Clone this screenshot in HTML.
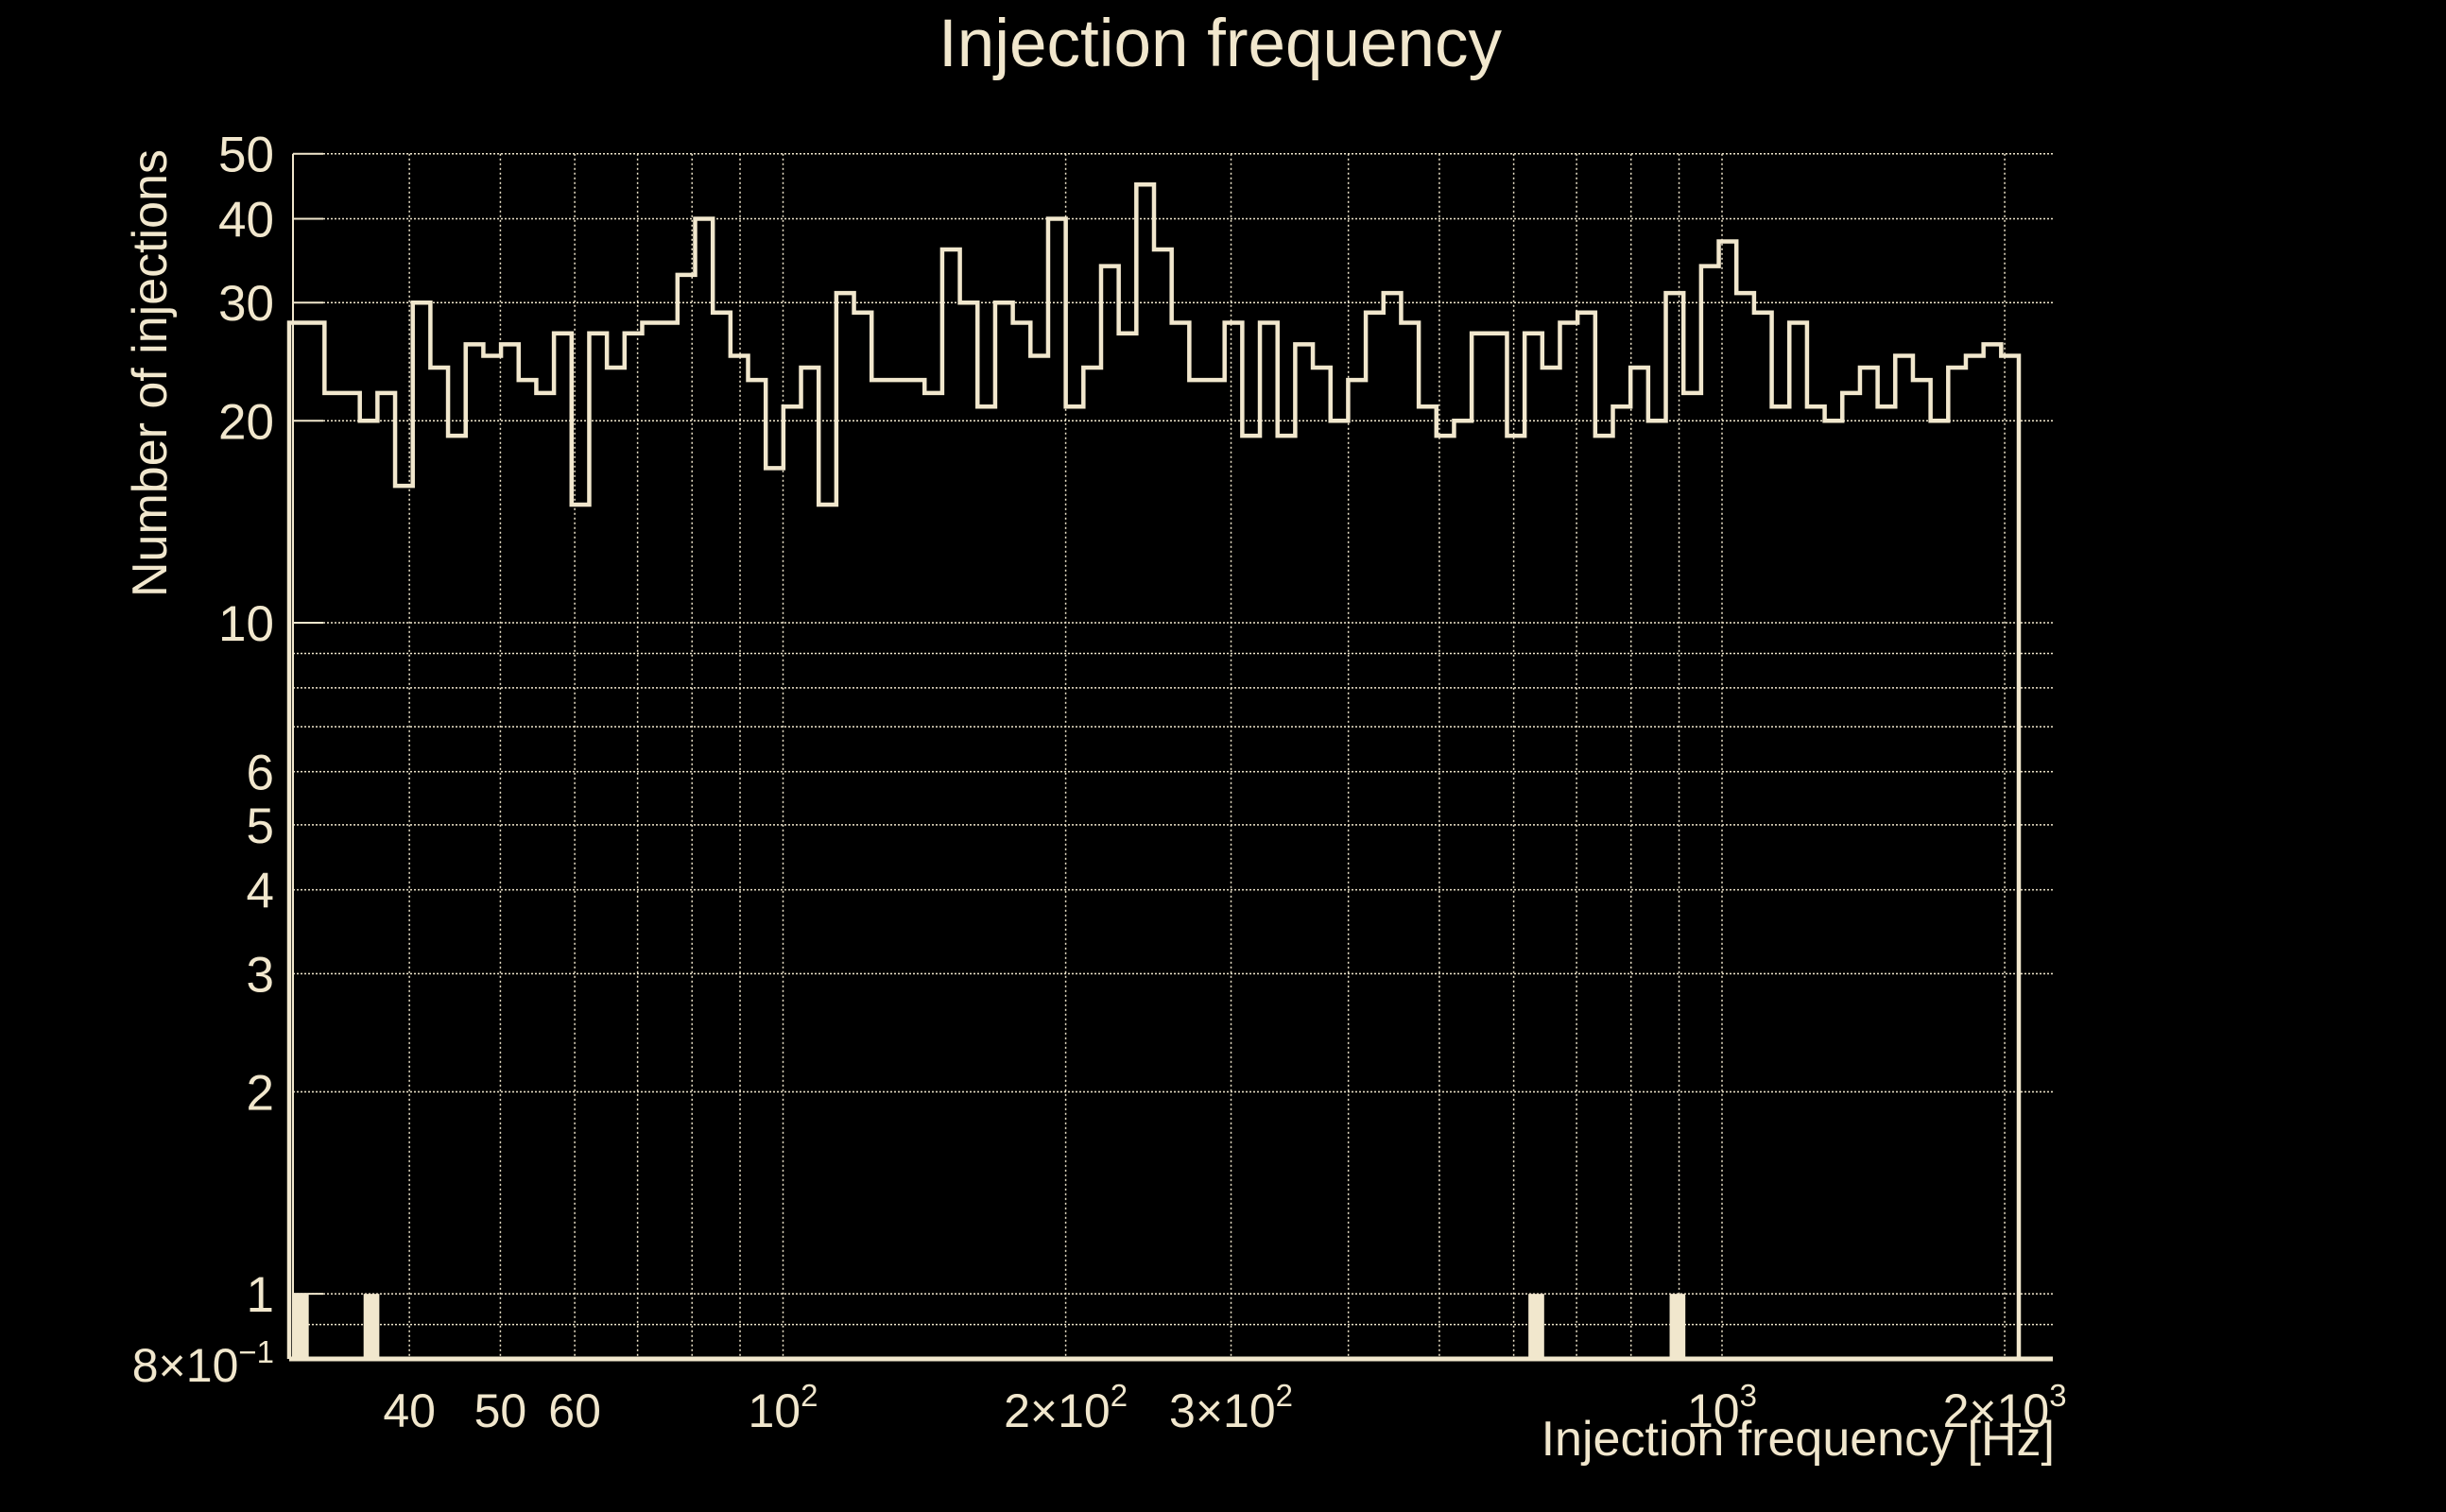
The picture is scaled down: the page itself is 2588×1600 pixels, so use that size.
<!DOCTYPE html>
<html><head><meta charset="utf-8"><style>
html,body{margin:0;padding:0;background:#000;}
svg{display:block;}
text{font-family:"Liberation Sans",sans-serif;fill:#f1e7cd;}
</style></head><body>
<svg id="chart" width="2588" height="1600" viewBox="0 0 2588 1600" xmlns="http://www.w3.org/2000/svg">
<rect width="2588" height="1600" fill="#000"/>
<text x="1291" y="70" font-size="71" text-anchor="middle">Injection frequency</text>
<text transform="translate(176,395) rotate(-90)" font-size="52" text-anchor="middle">Number of injections</text>
<text x="2174" y="1540" font-size="52" text-anchor="end">Injection frequency [Hz]</text>
<g id="grid"></g><g id="bars"></g><g id="hist"></g><g id="axes"></g><g id="ticks"></g>
</svg>
<script>
const counts = [28,28,22,22,20,22,16,30,24,19,26,25,26,23,22,27,15,27,24,27,28,28,33,40,29,25,23,17,21,24,15,31,29,23,23,23,22,36,30,21,30,28,25,40,21,24,34,27,45,36,
28,23,23,28,19,28,19,26,24,20,23,29,31,28,21,19,20,27,27,19,27,24,28,29,19,21,24,20,31,22,34,37,31,29,21,28,21,20,22,24,21,25,23,20,24,25,26,25];
const singleBins = [0,4,70,78];
const singleValues = [1,1,1,1];
const yTickVals = [50,40,30,20,10,6,5,4,3,2,1];
const yTickLabels = ["50","40","30","20","10","6","5","4","3","2","1"];
const yGridVals = [0.9,1,2,3,4,5,6,7,8,9,10,20,30,40,50];
const xGridVals = [40,50,60,70,80,90,100,200,300,400,500,600,700,800,900,1000,2000];
const xTickVals = [40,50,60,100,200,300,1000,2000];
const xTickMant = ["40","50","60","10","2\u00d710","3\u00d710","10","2\u00d710"];
const xTickExp = ["","","","2","2","2","3","3"];

const NS="http://www.w3.org/2000/svg";
const C="#f1e7cd";
const L=310,R=2172,T=162.7,B=1438;
const yMin=0.8,yMax=50,dec=(B-T)/Math.log10(yMax/yMin);
function Y(v){return B-(Math.log10(v/yMin))*dec;}
function X(f){return 828.5+993.5*Math.log10(f/100);}
const histL=306,histR=2136;
function binX(i){return histL+(histR-histL)*i/counts.length;}
function mk(tag,attrs,parent){const e=document.createElementNS(NS,tag);for(const k in attrs)e.setAttribute(k,attrs[k]);parent.appendChild(e);return e;}
const grid=document.getElementById('grid'),hist=document.getElementById('hist'),axes=document.getElementById('axes'),ticks=document.getElementById('ticks'),bars=document.getElementById('bars');
yGridVals.forEach(v=>{const e=mk('line',{x1:L,x2:R,y1:Y(v),y2:Y(v),stroke:C,'stroke-width':1.5,'stroke-dasharray':'2 2'},grid);

});
xGridVals.forEach(v=>{const e=mk('line',{x1:X(v),x2:X(v),y1:T,y2:B,stroke:C,'stroke-width':1.5,'stroke-dasharray':'2 3'},grid);

});
singleBins.forEach((b,k)=>{const e=mk('rect',{x:binX(b)+4,y:Y(singleValues[k]),width:binX(b+1)-binX(b)-2,height:B-Y(singleValues[k]),fill:C},bars);

});
let d='M'+binX(0)+','+B;
counts.forEach((c,i)=>{d+=' L'+binX(i)+','+Y(c)+' L'+binX(i+1)+','+Y(c);});
d+=' L'+binX(counts.length)+','+B;
const h=mk('path',{d:d,fill:'none',stroke:C,'stroke-width':4.5,'stroke-linejoin':'miter'},hist);


const ya=mk('line',{x1:L,x2:L,y1:T,y2:B,stroke:C,'stroke-width':2},axes);


const xa=mk('line',{x1:L-4,x2:R,y1:B,y2:B,stroke:C,'stroke-width':5},axes);


[50,40,30,20,10,1].forEach(v=>{const e=mk('line',{x1:L,x2:L+32,y1:Y(v),y2:Y(v),stroke:C,'stroke-width':2},axes);

});
yTickVals.forEach((v,i)=>{const t=mk('text',{x:290,y:Y(v)+19,'font-size':53,'text-anchor':'end'},ticks);t.textContent=yTickLabels[i];

});
const t8=mk('text',{x:290,y:1462,'font-size':50,'text-anchor':'end'},ticks);


t8.innerHTML='8\u00d710<tspan dy="-20" font-size="33">\u22121</tspan>';
xTickVals.forEach((v,i)=>{const t=mk('text',{x:X(v),y:1510,'font-size':50,'text-anchor':'middle'},ticks);


t.textContent=xTickMant[i];
if(xTickExp[i]){const s=document.createElementNS(NS,'tspan');s.setAttribute('dy','-22');s.setAttribute('font-size','33');s.textContent=xTickExp[i];t.appendChild(s);}
});
</script>
</body></html>
